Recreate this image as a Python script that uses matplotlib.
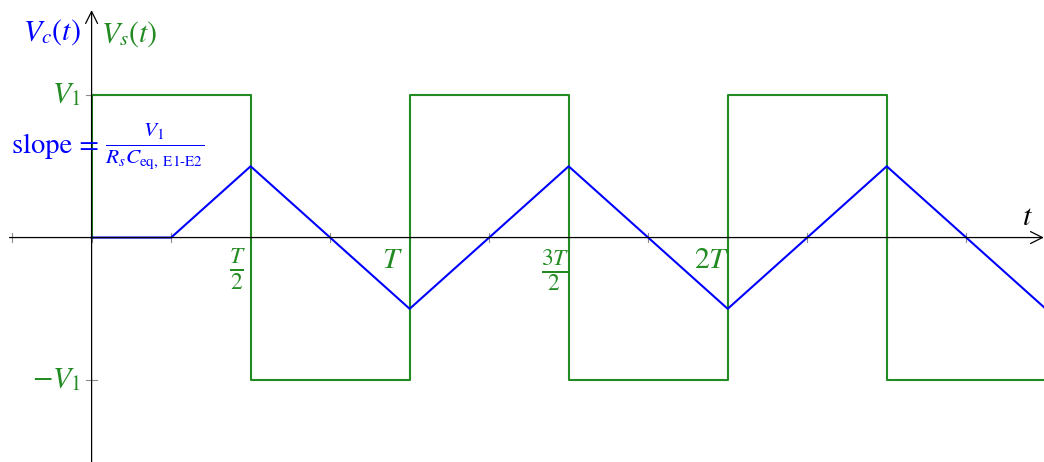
import matplotlib.pyplot as plt
import matplotlib as mpl

# time in units of T, voltages in units of V1
t_src = [0, 0, 0.5, 0.5, 1, 1, 1.5, 1.5, 2, 2, 2.5, 2.5, 3]
v_src = [0, 1, 1, -1, -1, 1, 1, -1, -1, 1, 1, -1, -1]

t_cap = [0, 0.25, 0.5, 1, 1.5, 2, 2.5, 3]
v_cap = [0, 0, 0.5, -0.5, 0.5, -0.5, 0.5, -0.5]

x_ticks = [-0.25, 0, 0.25, 0.5, 0.75, 1, 1.25, 1.5, 1.75, 2, 2.25, 2.5, 2.75]
y_ticks = [1, -1]
x_labels = [(0.5, r'$\frac{T}{2}$'), (1, r'$T$'), (1.5, r'$\frac{3T}{2}$'), (2, r'$2T$')]
y_labels = [(1, r'$V_1$'), (-1, r'$-V_1$')]

# horizontal nudge (points) for each time label
x_label_dx = {0.5: -3.8, 1: -4.5, 1.5: 0.3, 2: 1.5}

GREEN = '#228b22'
BLUE = '#0000ff'
TICK = '#8c8c8c'

mpl.rcParams['mathtext.fontset'] = 'stix'
mpl.rcParams['font.family'] = 'STIXGeneral'
mpl.rcParams['font.size'] = 21.5

fig = plt.figure(figsize=(10.44, 4.62), dpi=100)
ax = fig.add_axes([0, 0, 1, 1])
ax.set_xlim(-0.288, 2.9945)
ax.set_ylim(-1.575, 1.667)
ax.axis('off')

# square-wave source and capacitor voltage
ax.plot(t_src, v_src, color=GREEN, lw=1.5, zorder=2)
ax.plot(t_cap, v_cap, color=BLUE, lw=1.5, zorder=2)

# axes with arrow heads
ax.annotate('', xy=(2.994, 0), xytext=(-0.258, 0),
            arrowprops=dict(arrowstyle='->', lw=0.9, color='black',
                            shrinkA=0, shrinkB=0), zorder=3)
ax.annotate('', xy=(0, 1.596), xytext=(0, -1.6),
            arrowprops=dict(arrowstyle='->', lw=0.9, color='black',
                            shrinkA=0, shrinkB=0), zorder=3)

for x in x_ticks:
    ax.plot([x, x], [-0.03, 0.03], color=TICK, lw=0.8, zorder=1)
for y in y_ticks:
    ax.plot([-0.017, 0.017], [y, y], color=TICK, lw=0.8, zorder=1)

for x, s in x_labels:
    size = 24 if 'frac' in s else 21.5
    ax.annotate(s, xy=(x, 0), xytext=(x_label_dx[x], -7), textcoords='offset points',
                ha='right', va='top', color=GREEN, fontsize=size)
for y, s in y_labels:
    ax.annotate(s, xy=(0, y), xytext=(-8, 0), textcoords='offset points',
                ha='right', va='center', color=GREEN)

ax.annotate(r'$V_c(t)$', xy=(0, 1.596), xytext=(-8, -16), textcoords='offset points',
            ha='right', va='center', color=BLUE)
ax.annotate(r'$V_s(t)$', xy=(0, 1.596), xytext=(7, -17), textcoords='offset points',
            ha='left', va='center', color=GREEN)
ax.annotate(r'$t$', xy=(2.994, 0), xytext=(-8, 4), textcoords='offset points',
            ha='right', va='bottom')
ax.text(-0.251, 0.64, 'slope =', ha='left', va='center', color=BLUE, fontsize=20.5)
ax.text(0.042, 0.64, r'$\frac{V_1}{R_s C_{\mathrm{eq,\ E1\text{-}E2}}}$',
        ha='left', va='center', color=BLUE, fontsize=22)

fig.savefig('out.png', dpi=100)
